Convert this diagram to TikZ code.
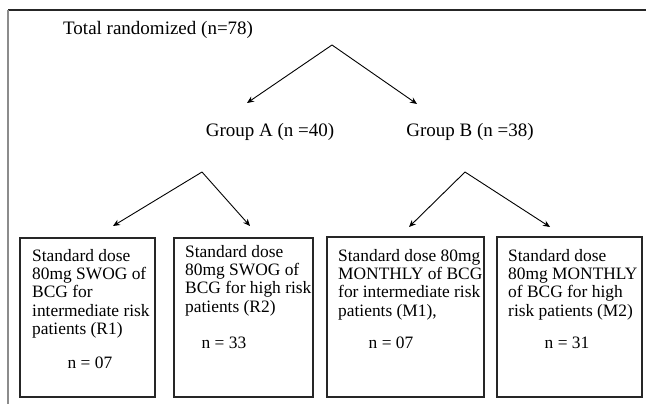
\documentclass[tikz,border=0pt]{standalone}
\usepackage{fontspec}
\setmainfont{Liberation Serif}
\usetikzlibrary{arrows.meta}
\tikzset{
  frameline/.style={line width=1.4pt, black!85},
  sideline/.style={line width=2pt, black!45},
  boxframe/.style={draw=black!85, line width=1.5pt, rectangle, inner sep=0pt, minimum height=159pt},
  boxtext/.style={inner sep=0pt, anchor=north west, align=left, font=\fontsize{17.4}{18.3}\selectfont},
  counttext/.style={inner sep=0pt, anchor=base, font=\fontsize{17.4}{18.3}\selectfont},
  label/.style={inner sep=0pt, font=\fontsize{19}{20}\selectfont},
  arr/.style={line width=0.9pt, black, -{Stealth[length=7pt,width=6pt]}}
}
\begin{document}
\begin{tikzpicture}[x=1pt,y=-1pt]
\useasboundingbox (0,0) rectangle (647,404);
\fill[white] (0,0) rectangle (647,404);
% frame
\draw[frameline] (8,10) -- (646,10);
\draw[sideline] (8,10) -- (8,404);
% labels
\node[label, anchor=base west] (total) at (63,35) {Total randomized (n=78)};
\node[label, anchor=base] (ga) at (270,136) {Group A (n =40)};
\node[label, anchor=base] (gb) at (470,136) {Group B (n =38)};
% boxes
\node[boxframe, minimum width=135pt] (b1) at (87.5,317.5) {};
\node[boxframe, minimum width=139pt] (b2) at (243.5,317.5) {};
\node[boxframe, minimum width=157pt, minimum height=160pt] (b3) at (405.5,317) {};
\node[boxframe, minimum width=145pt, minimum height=160pt] (b4) at (569.5,317) {};
% box texts
\node[boxtext] (t1) at (32,249) {Standard dose\\80mg SWOG of\\BCG for\\intermediate risk\\patients (R1)};
\node[counttext] (n1) at (90,368) {n = 07};
\node[boxtext] (t2) at (185,245) {Standard dose\\80mg SWOG of\\BCG for high risk\\patients (R2)};
\node[counttext] (n2) at (224,348) {n = 33};
\node[boxtext] (t3) at (338,249) {Standard dose 80mg\\MONTHLY of BCG\\for intermediate risk\\patients (M1),};
\node[counttext] (n3) at (391,348) {n = 07};
\node[boxtext] (t4) at (508,249) {Standard dose\\80mg MONTHLY\\of BCG for high\\risk patients (M2)};
\node[counttext] (n4) at (567,348) {n = 31};
% branch points
\coordinate (top) at (332,45);
\coordinate (tl) at (247,103);
\coordinate (tr) at (417,104);
\coordinate (aa) at (202,172);
\coordinate (al) at (113,226);
\coordinate (ar) at (250,226);
\coordinate (ba) at (465,172);
\coordinate (bl) at (409,227);
\coordinate (br) at (550,227);
\draw[arr] (top) -- (tl);
\draw[arr] (top) -- (tr);
\draw[arr] (aa) -- (al);
\draw[arr] (aa) -- (ar);
\draw[arr] (ba) -- (bl);
\draw[arr] (ba) -- (br);
\end{tikzpicture}
\end{document}
